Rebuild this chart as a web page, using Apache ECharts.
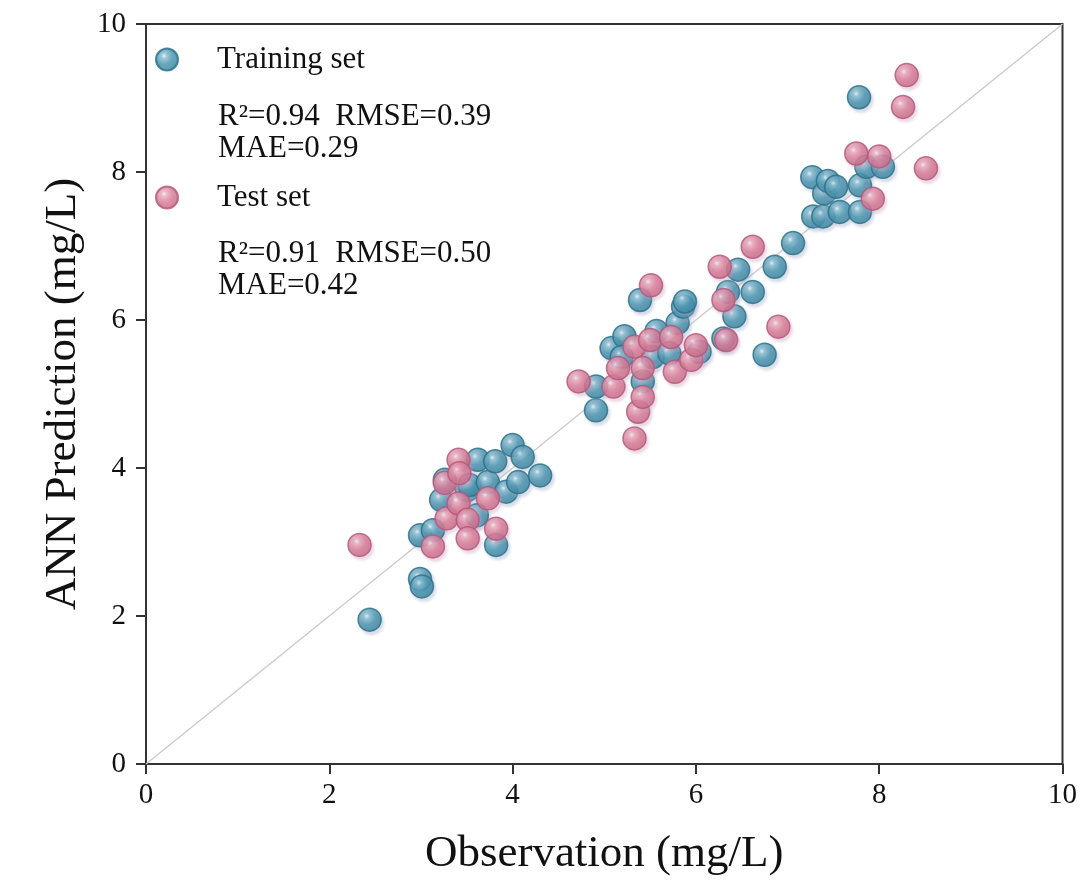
<!DOCTYPE html>
<html>
<head>
<meta charset="utf-8">
<script src="https://cdn.jsdelivr.net/npm/echarts@6/dist/echarts.min.js"></script>
<style>
  html, body { margin: 0; padding: 0; background: #fff; }
  #chart { width: 1080px; height: 891px; }
</style>
</head>
<body>
<div id="chart"></div>
<script>
  // observation, prediction pairs
  const trainSet = [
    [2.44, 1.95], [2.99, 2.50], [3.01, 2.40], [2.99, 3.09], [3.13, 3.16],
    [3.22, 3.57], [3.26, 3.84], [3.50, 3.70], [3.53, 3.77], [3.62, 4.11],
    [3.61, 3.36], [3.73, 3.81], [3.81, 4.09], [3.82, 2.96], [3.93, 3.68],
    [4.00, 4.31], [4.11, 4.15], [4.06, 3.81], [4.30, 3.90],
    [4.91, 4.78], [4.91, 5.10], [5.08, 5.62], [5.22, 5.78], [5.19, 5.50],
    [5.42, 5.17], [5.39, 6.27], [5.53, 5.50], [5.57, 5.85], [5.71, 5.55],
    [5.80, 5.96], [5.86, 6.18], [5.88, 6.25], [6.04, 5.57], [6.30, 5.75],
    [6.35, 6.38], [6.42, 6.05], [6.46, 6.68], [6.62, 6.38], [6.75, 5.53],
    [6.86, 6.72], [7.06, 7.04], [7.28, 7.40], [7.39, 7.40], [7.27, 7.93],
    [7.40, 7.71], [7.44, 7.88], [7.53, 7.80], [7.57, 7.46], [7.79, 7.46],
    [7.79, 7.82], [7.86, 8.07], [8.04, 8.07], [7.78, 9.01]
  ];
  const testSet = [
    [2.33, 2.96], [3.13, 2.94], [3.26, 3.80], [3.28, 3.32], [3.41, 3.52],
    [3.41, 4.11], [3.42, 3.93], [3.51, 3.30], [3.51, 3.05], [3.73, 3.59],
    [3.82, 3.18],
    [4.72, 5.17], [5.10, 5.10], [5.15, 5.35], [5.33, 5.64], [5.33, 4.40],
    [5.37, 4.76], [5.42, 4.96], [5.42, 5.35], [5.50, 5.73], [5.51, 6.47],
    [5.73, 5.77], [5.77, 5.30], [5.95, 5.46], [6.00, 5.66], [6.26, 6.72],
    [6.30, 6.27], [6.33, 5.73], [6.62, 6.99], [6.90, 5.91],
    [7.75, 8.25], [7.93, 7.64], [8.00, 8.21], [8.26, 8.88], [8.30, 9.31],
    [8.51, 8.05]
  ];
  const identityLine = [[0, 0], [10, 10]];
  const axisTicks = { min: 0, max: 10, interval: 2 };
  const trainStats = ["R²=0.94  RMSE=0.39", "MAE=0.29"];
  const testStats = ["R²=0.91  RMSE=0.50", "MAE=0.42"];

  const font = "'Liberation Serif', 'Times New Roman', serif";

  function ball(light, mid, dark) {
    return {
      type: "radial", x: 0.38, y: 0.35, r: 0.72,
      colorStops: [
        { offset: 0, color: "#e8f0f4" },
        { offset: 0.16, color: light },
        { offset: 0.5, color: mid },
        { offset: 1, color: dark },
      ],
    };
  }

  const blueFill = ball("#84bccf", "#4692ac", "#337f99");
  const pinkFill = ball("#eaa8ba", "#d57a95", "#c46582");

  const chart = echarts.init(document.getElementById("chart"));

  function axis(name, gap, margin) {
    return {
      type: "value",
      min: axisTicks.min,
      max: axisTicks.max,
      interval: axisTicks.interval,
      name: name,
      nameLocation: "middle",
      nameGap: gap,
      nameTextStyle: { fontFamily: font, fontSize: 45, color: "#111" },
      axisLine: { show: true, lineStyle: { color: "#333", width: 2 } },
      axisTick: { show: true, inside: false, length: 10, lineStyle: { color: "#333", width: 2 } },
      axisLabel: { fontFamily: font, fontSize: 29, color: "#111", margin: margin },
      splitLine: { show: false },
    };
  }

  const legendText = { fontFamily: font, fontSize: 31, color: "#111", padding: [0, 0, 0, 34] };

  chart.setOption({
    backgroundColor: "#fff",
    animation: false,
    grid: {
      left: 146, right: 17, top: 24, bottom: 127,
      show: true, borderColor: "#333", borderWidth: 2,
    },
    xAxis: axis("Observation (mg/L)", 68, 17),
    yAxis: axis("ANN Prediction (mg/L)", 58, 20),
    legend: [
      {
        data: ["Training set"], left: 150, top: 39, itemWidth: 22, itemHeight: 22,
        itemGap: 0, textStyle: legendText,
      },
      {
        data: ["Test set"], left: 150, top: 177, itemWidth: 22, itemHeight: 22,
        itemGap: 0, textStyle: legendText,
      },
    ],
    graphic: [
      {
        type: "text", left: 218, top: 101,
        style: { text: trainStats.join("\n"), font: "31px " + font, fill: "#111", lineHeight: 32 },
      },
      {
        type: "text", left: 218, top: 238,
        style: { text: testStats.join("\n"), font: "31px " + font, fill: "#111", lineHeight: 32 },
      },
    ],
    series: [
      {
        name: "identity",
        type: "line",
        data: identityLine,
        symbol: "none",
        silent: true,
        z: 1,
        lineStyle: { color: "#cccccc", width: 1.5 },
      },
      {
        name: "Training set",
        type: "scatter",
        data: trainSet,
        symbolSize: 23,
        z: 2,
        itemStyle: {
          color: blueFill, opacity: 0.82,
          borderColor: "#2b7088", borderWidth: 1.5,
          shadowColor: "rgba(160,170,200,0.45)", shadowBlur: 3, shadowOffsetX: 2, shadowOffsetY: 3,
        },
      },
      {
        name: "Test set",
        type: "scatter",
        data: testSet,
        symbolSize: 23,
        z: 3,
        itemStyle: {
          color: pinkFill, opacity: 0.82,
          borderColor: "#b5577a", borderWidth: 1.5,
          shadowColor: "rgba(200,160,190,0.45)", shadowBlur: 3, shadowOffsetX: 2, shadowOffsetY: 3,
        },
      },
    ],
  });
</script>
</body>
</html>
